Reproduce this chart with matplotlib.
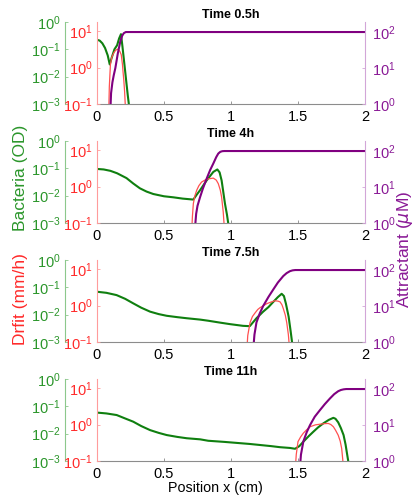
import matplotlib.pyplot as plt
from matplotlib.ticker import NullLocator

plt.rcParams['font.family'] = ['Liberation Sans', 'DejaVu Sans']

# ---- data ----
titles = ['Time 0.5h', 'Time 4h', 'Time 7.5h', 'Time 11h']

# bacteria (OD)
g_x1 = [0.0, 0.02, 0.04, 0.06, 0.08, 0.095, 0.11, 0.13, 0.15, 0.165, 0.179, 0.19, 0.2, 0.21, 0.22, 0.23, 0.24]
g_y1 = [0.224, 0.209, 0.166, 0.112, 0.06, 0.028, 0.05, 0.1, 0.141, 0.25, 0.36, 0.126, 0.045, 0.016, 0.0056, 0.002, 0.0008]
g_x2 = [0.0, 0.05, 0.1, 0.15, 0.22, 0.27, 0.32, 0.37, 0.42, 0.5, 0.57, 0.64, 0.719, 0.745, 0.769, 0.818, 0.868,
        0.898, 0.915, 0.93, 0.955, 0.97, 0.982]
g_y2 = [0.095, 0.091, 0.081, 0.066, 0.044, 0.028, 0.0186, 0.0141, 0.0115, 0.0095, 0.0087, 0.0078, 0.0072, 0.011,
        0.0158, 0.036, 0.074, 0.091, 0.071, 0.036, 0.0051, 0.002, 0.0008]
g_x3 = [0.0, 0.07, 0.146, 0.21, 0.27, 0.33, 0.396, 0.46, 0.52, 0.6, 0.67, 0.77, 0.83, 0.92, 0.993, 1.09, 1.14,
        1.19, 1.24, 1.28, 1.316, 1.35, 1.378, 1.395, 1.41, 1.43, 1.445, 1.458]
g_y3 = [0.069, 0.063, 0.052, 0.038, 0.026, 0.018, 0.0129, 0.0105, 0.0091, 0.0081, 0.0074, 0.0066, 0.006, 0.0051,
        0.0045, 0.0039, 0.0038, 0.0074, 0.0129, 0.019, 0.0295, 0.044, 0.058, 0.048, 0.025, 0.0085, 0.0025, 0.0008]
g_x4 = [0.0, 0.07, 0.147, 0.21, 0.27, 0.33, 0.396, 0.46, 0.52, 0.6, 0.67, 0.77, 0.83, 0.95, 1.14, 1.3, 1.366,
        1.44, 1.478, 1.51, 1.54, 1.58, 1.614, 1.65, 1.69, 1.73, 1.764, 1.78, 1.8, 1.82, 1.84, 1.855, 1.868, 1.878]
g_y4 = [0.059, 0.055, 0.048, 0.036, 0.0275, 0.019, 0.0135, 0.0107, 0.0089, 0.0076, 0.0068, 0.0062, 0.0055, 0.005,
        0.0042, 0.0035, 0.0032, 0.003, 0.0028, 0.0035, 0.0051, 0.0081, 0.0117, 0.017, 0.024, 0.032, 0.038, 0.035,
        0.026, 0.016, 0.0089, 0.004, 0.0016, 0.0008]

# drift (mm/h)
r_x1 = [0.087, 0.092, 0.1, 0.11, 0.125, 0.14, 0.157, 0.17, 0.181, 0.19, 0.194, 0.2, 0.206, 0.212]
r_y1 = [0.05, 0.3, 1.19, 1.9, 2.5, 3.0, 3.2, 2.8, 2.24, 1.2, 0.79, 0.45, 0.22, 0.08]
r_x2 = [0.706, 0.712, 0.719, 0.73, 0.744, 0.76, 0.78, 0.805, 0.83, 0.868, 0.89, 0.905, 0.92, 0.93, 0.942, 0.952]
r_y2 = [0.05, 0.15, 0.34, 0.55, 0.79, 1.05, 1.32, 1.5, 1.62, 1.7, 1.5, 1.2, 0.8, 0.51, 0.2, 0.06]
r_x3 = [1.117, 1.125, 1.142, 1.16, 1.18, 1.2, 1.216, 1.24, 1.266, 1.3, 1.328, 1.35, 1.366, 1.38, 1.39, 1.405,
        1.416, 1.428, 1.438]
r_y3 = [0.05, 0.15, 0.34, 0.5, 0.63, 0.78, 0.87, 0.98, 1.12, 1.25, 1.35, 1.32, 1.26, 1.05, 0.83, 0.55, 0.34, 0.16, 0.06]
r_x4 = [1.478, 1.487, 1.5, 1.52, 1.54, 1.565, 1.59, 1.63, 1.664, 1.7, 1.726, 1.745, 1.764, 1.78, 1.8, 1.815,
        1.826, 1.834, 1.84]
r_y4 = [0.05, 0.15, 0.34, 0.46, 0.58, 0.72, 0.87, 0.98, 1.02, 1.06, 1.07, 1.0, 0.87, 0.7, 0.51, 0.35, 0.22, 0.11, 0.05]

# attractant (uM)
p_x1 = [0.1, 0.105, 0.115, 0.125, 0.137, 0.155, 0.174, 0.188, 0.2, 0.215, 2.0]
p_y1 = [0.7, 2.0, 4.0, 6.3, 10, 25, 55, 79, 93, 100, 100]
p_x2 = [0.731, 0.74, 0.75, 0.769, 0.79, 0.818, 0.845, 0.868, 0.89, 0.905, 0.92, 0.935, 0.95, 2.0]
p_y2 = [0.7, 1.8, 3.0, 5.2, 9, 17, 30, 45, 68, 85, 95, 99, 100, 100]
p_x3 = [1.167, 1.175, 1.19, 1.215, 1.24, 1.28, 1.316, 1.35, 1.39, 1.415, 1.44, 1.46, 1.48, 2.0]
p_y3 = [0.7, 1.6, 3.5, 6.3, 10, 18, 29, 45, 68, 82, 93, 98, 100, 100]
p_x4 = [1.515, 1.522, 1.54, 1.565, 1.59, 1.625, 1.664, 1.7, 1.739, 1.77, 1.8, 1.82, 1.84, 1.86, 2.0]
p_y4 = [0.7, 1.5, 3.5, 6.3, 10, 17, 26, 38, 55, 72, 87, 94, 98, 100, 100]

green = [(g_x1, g_y1), (g_x2, g_y2), (g_x3, g_y3), (g_x4, g_y4)]
red = [(r_x1, r_y1), (r_x2, r_y2), (r_x3, r_y3), (r_x4, r_y4)]
purple = [(p_x1, p_y1), (p_x2, p_y2), (p_x3, p_y3), (p_x4, p_y4)]

xticks = [0, 0.5, 1, 1.5, 2]
xticklabels = ['0', '0.5', '1', '1.5', '2']

# colours
G_LINE, G_TXT, G_SPINE = '#0f7f0f', '#2b962b', '#8cc88c'
R_LINE, R_TXT, R_SPINE = '#ff5050', '#ff2a2a', '#ff9c9c'
P_LINE, P_TXT, P_SPINE = '#800080', '#8a1a96', '#d2a6d8'

W, H = 414, 500
fig = plt.figure(figsize=(W / 100, H / 100), dpi=100)

tops = [22, 141, 260, 379]
left_px, right_px, h_px = 97, 365, 82
fs = 10.5

for i in range(4):
    top = tops[i]
    ax = fig.add_axes([left_px / W, 1 - (top + h_px) / H, (right_px - left_px) / W, h_px / H])
    axr = ax.twinx()
    axp = ax.twinx()

    gx, gy = green[i]
    rx, ry = red[i]
    px, py = purple[i]
    ax.plot(gx, gy, color=G_LINE, lw=1.5)
    axr.plot(rx, ry, color=R_LINE, lw=0.9)
    axp.plot(px, py, color=P_LINE, lw=1.5)

    ax.set_xlim(0, 2)
    ax.set_yscale('log')
    ax.set_ylim(1e-3, 1)
    ax.set_yticks([1e-3, 1e-2, 1e-1, 1])
    axr.set_yscale('log')
    axr.set_ylim(0.1, 17.7)
    axr.set_yticks([0.1, 1, 10])
    axp.set_yscale('log')
    axp.set_ylim(1, 190)
    axp.set_yticks([1, 10, 100])
    for a in (ax, axr, axp):
        a.yaxis.set_minor_locator(NullLocator())

    ax.set_xticks(xticks)
    ax.set_xticklabels(xticklabels)
    ax.tick_params(axis='x', direction='in', length=2.5, width=0.6, color='#888888',
                   labelsize=fs, pad=4)

    # host: green axis pushed out to the left
    for s in ('top', 'right'):
        ax.spines[s].set_visible(False)
    ax.spines['left'].set_position(('outward', 23))
    ax.spines['left'].set_color(G_SPINE)
    ax.spines['bottom'].set_color('#8c8c8c')
    ax.tick_params(axis='y', direction='in', length=2.5, width=0.6, color=G_SPINE,
                   labelcolor=G_TXT, labelsize=fs, pad=3)

    # red axis on the left at the plot edge
    for s in ('top', 'right', 'bottom'):
        axr.spines[s].set_visible(False)
    axr.spines['left'].set_visible(True)
    axr.spines['left'].set_color(R_SPINE)
    axr.yaxis.tick_left()
    axr.tick_params(axis='y', direction='in', length=2.5, width=0.6, color=R_SPINE,
                    labelcolor=R_TXT, labelsize=fs, pad=3)

    # purple axis on the right
    for s in ('top', 'left', 'bottom'):
        axp.spines[s].set_visible(False)
    axp.spines['right'].set_color(P_SPINE)
    axp.tick_params(axis='y', direction='in', length=2.5, width=0.6, color=P_SPINE,
                    labelcolor=P_TXT, labelsize=fs, pad=5)

    ax.set_title(titles[i], fontsize=9, fontweight='bold', pad=3)

fig.text(21 / W, 1 - 178 / H, 'Bacteria (OD)', color=G_TXT, rotation=90,
         ha='center', va='center', fontsize=12.5)
fig.text(21 / W, 1 - 299 / H, 'Drfit (mm/h)', color=R_TXT, rotation=90,
         ha='center', va='center', fontsize=12.5)
fig.text(405 / W, 1 - 249 / H, 'Attractant ($\\mu$M)', color=P_TXT, rotation=90,
         ha='center', va='center', fontsize=12.5)
fig.text(215 / W, 1 - 488 / H, 'Position x (cm)', ha='center', va='center', fontsize=10.3)

fig.savefig('out.png', dpi=100)
